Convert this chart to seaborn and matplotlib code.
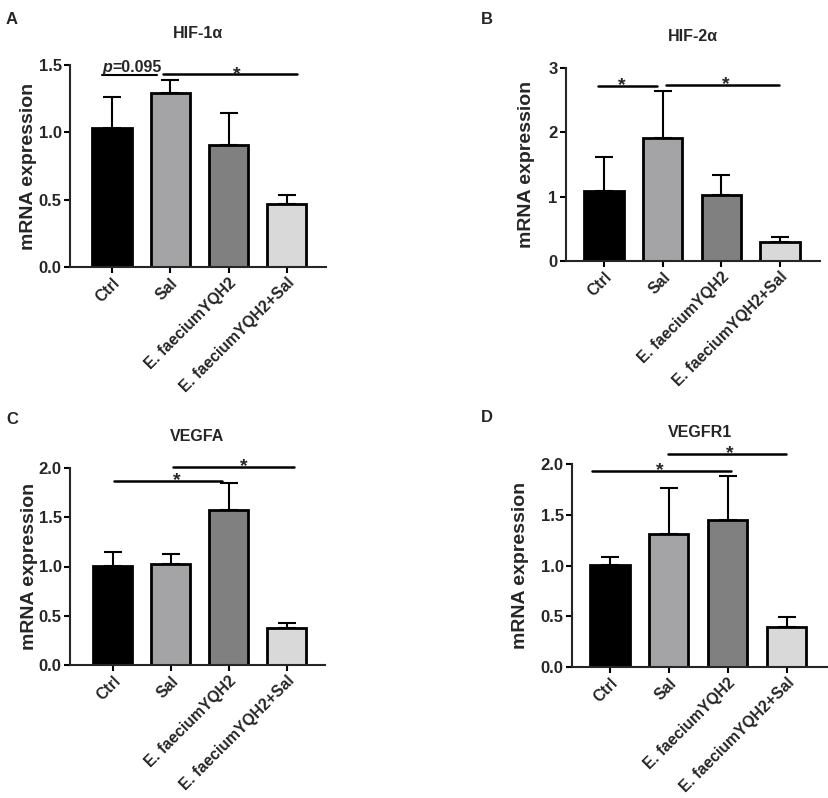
import matplotlib
matplotlib.use("Agg")
import matplotlib.pyplot as plt
import seaborn as sns
import pandas as pd
import numpy as np

sns.set_style("ticks")
plt.rcParams['font.family'] = ['Liberation Sans', 'DejaVu Sans']
plt.rcParams['font.weight'] = 'bold'
plt.rcParams['axes.linewidth'] = 1.5

# ---------------- data ----------------
groups = ["Ctrl", "Sal", "E. faeciumYQH2", "E. faeciumYQH2+Sal"]
colors = ["#000000", "#a3a3a8", "#808080", "#d9d9d9"]

hif1a_mean = [1.03, 1.29, 0.905, 0.47]
hif1a_err = [0.235, 0.10, 0.24, 0.063]

hif2a_mean = [1.09, 1.91, 1.03, 0.29]
hif2a_err = [0.53, 0.74, 0.30, 0.09]

vegfa_mean = [1.01, 1.03, 1.57, 0.373]
vegfa_err = [0.14, 0.10, 0.28, 0.057]

vegfr1_mean = [1.005, 1.31, 1.45, 0.395]
vegfr1_err = [0.075, 0.45, 0.43, 0.10]

titles = ["HIF-1α", "HIF-2α", "VEGFA", "VEGFR1"]
panel_letters = ["A", "B", "C", "D"]
yticks_list = [[0.0, 0.5, 1.0, 1.5], [0, 1, 2, 3], [0.0, 0.5, 1.0, 1.5, 2.0], [0.0, 0.5, 1.0, 1.5, 2.0]]
ytick_fmt = ["{:.1f}", "{:.0f}", "{:.1f}", "{:.1f}"]

# significance annotations: (x_start, x_end, y, star_x, label)
sig_A = [(0.87, 3.17, 1.43, 2.14, "*")]
sig_B = [(-0.11, 0.90, 2.72, 0.30, "*"), (1.05, 2.98, 2.73, 2.07, "*")]
sig_C = [(0.02, 1.88, 1.87, 1.10, "*"), (1.03, 3.12, 2.006, 2.25, "*")]
sig_D = [(-0.30, 2.05, 1.93, 0.85, "*"), (0.98, 2.98, 2.095, 2.03, "*")]
pval_A = (-0.17, 0.77, 1.425, "0.095")

# ---------------- layout (figure pixels) ----------------
W, H = 829, 798
fig = plt.figure(figsize=(W / 100, H / 100), dpi=100)

def px_axes(l, r, top, bottom):
    return [l / W, 1 - bottom / H, (r - l) / W, (bottom - top) / H]

axes_px = [(70, 326, 65, 267), (566, 820, 68, 261), (70, 325, 468, 665), (572, 828, 464, 667)]
xlims = [(-0.72, 3.67), (-0.65, 3.68), (-0.74, 3.66), (-0.64, 3.70)]
ylims = [(0, 1.5), (0, 3), (0, 2.0), (0, 2.0)]
ylabel_off = [33, 31, 32, 43]

datasets = [(hif1a_mean, hif1a_err, sig_A), (hif2a_mean, hif2a_err, sig_B),
            (vegfa_mean, vegfa_err, sig_C), (vegfr1_mean, vegfr1_err, sig_D)]

for i, ((mean, err, sigs), (l, r, t, b)) in enumerate(zip(datasets, axes_px)):
    ax = fig.add_axes(px_axes(l, r, t, b))
    df = pd.DataFrame({"group": groups, "value": mean, "err": err})
    sns.barplot(data=df, x="group", y="value", hue="group", order=groups,
                hue_order=groups, palette=colors, width=0.67, edgecolor="black",
                linewidth=2.0, errorbar=None, legend=False, ax=ax, zorder=2)
    xpos = np.arange(len(groups))
    ax.errorbar(xpos, df["value"], yerr=[np.zeros(len(groups)), df["err"]],
                fmt="none", ecolor="black", elinewidth=1.5, capsize=6.5,
                capthick=1.5, zorder=1)
    ax.set_xlim(*xlims[i])
    ax.set_ylim(*ylims[i])
    ax.set_yticks(yticks_list[i])
    ax.set_yticklabels([ytick_fmt[i].format(v) for v in yticks_list[i]],
                       fontsize=12, fontweight="bold")
    ax.set_xticks(xpos)
    ax.set_xticklabels(groups, rotation=45, ha="right", rotation_mode="anchor",
                       fontsize=11.3, fontweight="bold")
    ax.tick_params(axis="both", direction="out", length=4, width=1.5, pad=2, color="black")
    ax.set_xlabel("")
    ax.set_ylabel("mRNA expression", fontsize=14, fontweight="bold")
    ax.yaxis.set_label_coords(-ylabel_off[i] / (r - l), 0.5)
    sns.despine(ax=ax)
    ax.annotate(titles[i], xy=(0.5, 1), xycoords="axes fraction", xytext=(0, 23),
                textcoords="offset points", ha="center", va="center",
                fontsize=11.5, fontweight="bold")
    for (x0, x1, y, sx, lab) in sigs:
        ax.plot([x0, x1], [y, y], color="black", lw=1.8, clip_on=False, zorder=3)
        ax.annotate(lab, xy=(sx, y), xytext=(0, -3), textcoords="offset points",
                    ha="center", va="baseline", fontsize=14, fontweight="bold",
                    annotation_clip=False)
    if i == 0:
        x0, x1, y, ptxt = pval_A
        ax.plot([x0, x1], [y, y], color="black", lw=1.5, clip_on=False, zorder=3)
        t1 = ax.text(x0 + 0.01, y + 0.025, "p", style="italic", fontweight="bold",
                     fontsize=11.5, ha="left", va="baseline")
        ax.annotate("=" + ptxt, xy=(1, 0), xycoords=t1, ha="left", va="bottom",
                    fontsize=11.5, fontweight="bold", annotation_clip=False)

letter_pos = [(12, 20), (487, 20), (12, 420), (487, 418)]
for lab, (x, y) in zip(panel_letters, letter_pos):
    fig.text(x / W, 1 - y / H, lab, fontsize=12, fontweight="bold",
             ha="center", va="center")

fig.savefig("out.png", dpi=100)
